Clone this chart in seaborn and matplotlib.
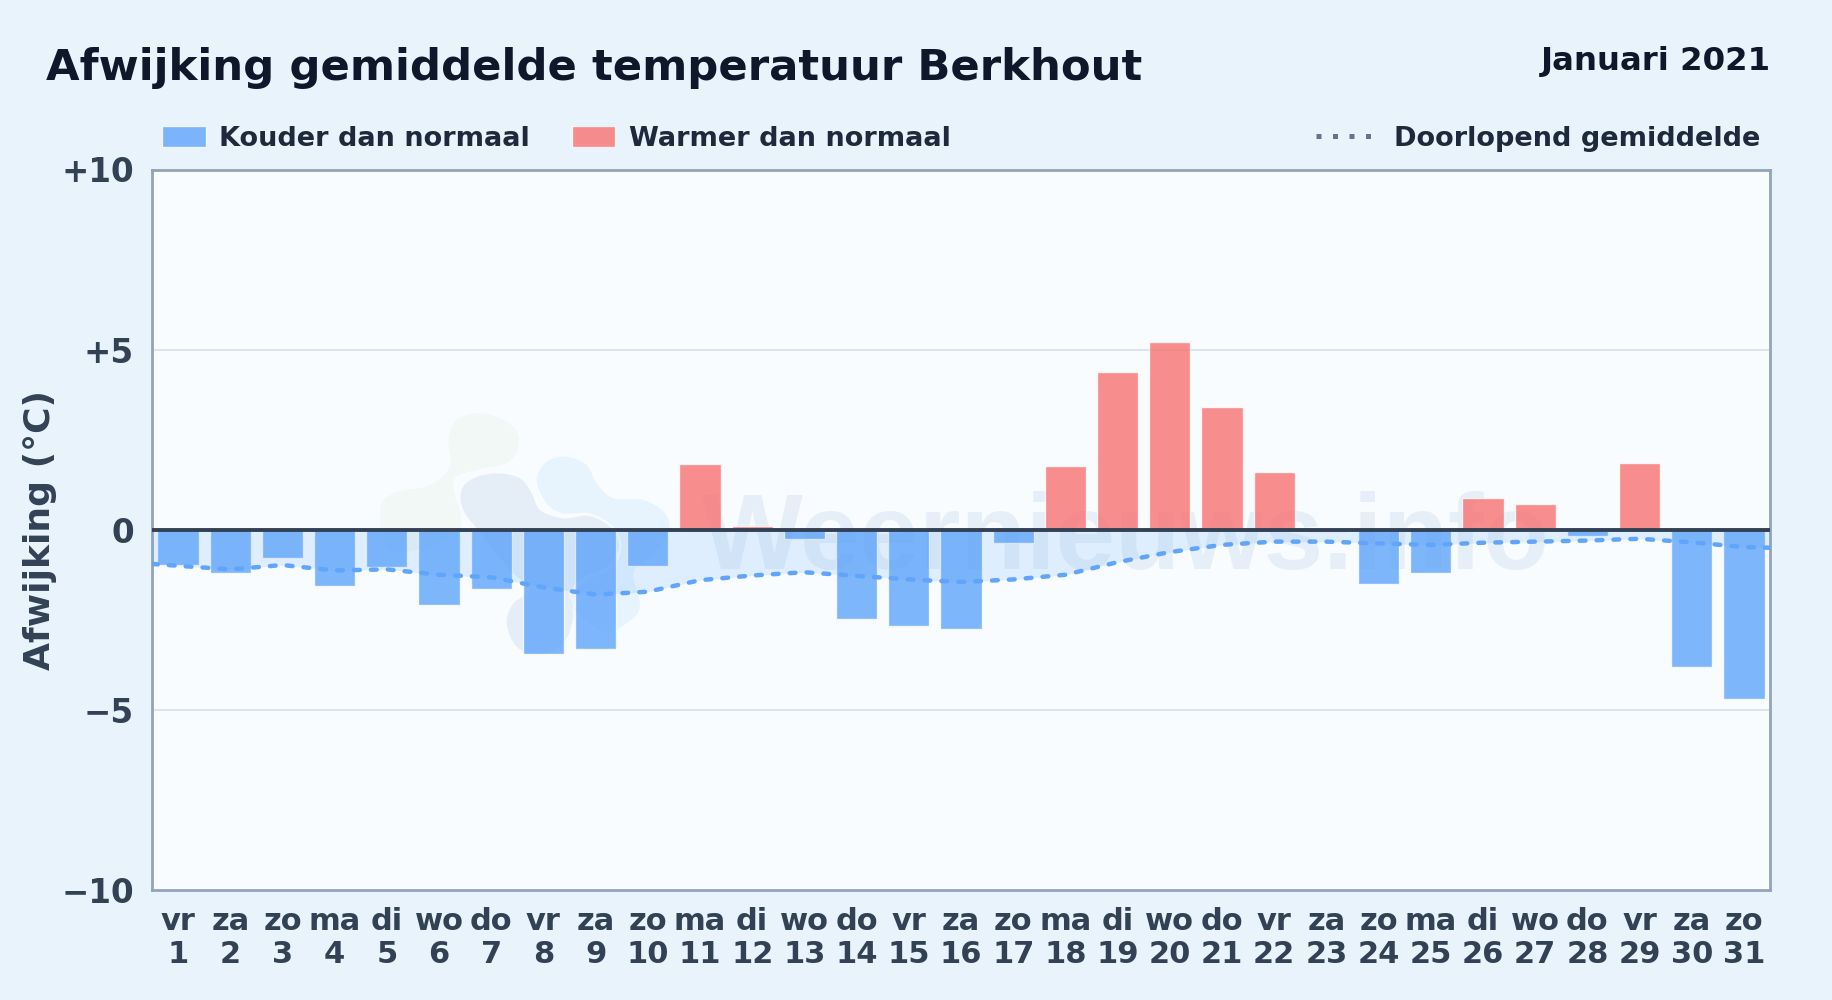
import matplotlib
matplotlib.use("Agg")
import matplotlib.pyplot as plt
import numpy as np
import pandas as pd
import seaborn as sns
from matplotlib.lines import Line2D
from matplotlib.patches import PathPatch, Patch
from matplotlib.path import Path
from matplotlib.transforms import Affine2D

weekdays = ["vr", "za", "zo", "ma", "di", "wo", "do", "vr", "za", "zo", "ma", "di", "wo", "do", "vr", "za",
            "zo", "ma", "di", "wo", "do", "vr", "za", "zo", "ma", "di", "wo", "do", "vr", "za", "zo"]
days = list(range(1, 32))
deviation = [-0.98, -1.2, -0.78, -1.55, -1.03, -2.1, -1.65, -3.45, -3.3, -1.0, 1.83, 0.1, -0.25, -2.47, -2.68, -2.75,
             -0.38, 1.77, 4.38, 5.2, 3.4, 1.6, -0.07, -1.5, -1.2, 0.88, 0.72, -0.18, 1.85, -3.8, -4.7]
running_mean = [-1.0, -1.1, -0.98, -1.13, -1.1, -1.25, -1.32, -1.6, -1.8, -1.72, -1.4, -1.27, -1.18, -1.28, -1.38, -1.45,
                -1.38, -1.25, -0.9, -0.62, -0.42, -0.33, -0.33, -0.38, -0.42, -0.36, -0.33, -0.3, -0.25, -0.35, -0.48]
running_start = -0.95
running_end = -0.5
y_ticks = [10, 5, 0, -5, -10]
y_labels = ["+10", "+5", "0", "\u22125", "\u221210"]

BLUE = "#60a5fa"
RED = "#f87171"
BG = "#e8f3fc"
PANEL = "#f8fcff"
INK = "#0f172a"
LABEL = "#334155"
LEGEND = "#1e293b"

sns.set_theme(style="white", font="DejaVu Sans")
fig = plt.figure(figsize=(18.32, 10), dpi=100, facecolor=BG)
ax = fig.add_axes([152 / 1832, 1 - 890 / 1000, (1770 - 152) / 1832, (890 - 169.5) / 1000], facecolor=PANEL)

df = pd.DataFrame({
    "label": [f"{w}\n{d}" for w, d in zip(weekdays, days)],
    "value": deviation,
    "kind": ["warm" if v > 0 else "koud" for v in deviation],
})
sns.barplot(data=df, x="label", y="value", hue="kind", dodge=False, width=0.79, alpha=0.8, saturation=1,
            palette={"koud": BLUE, "warm": RED}, errorbar=None, legend=False, ax=ax, zorder=2)

# running mean runs from edge to edge of the panel
line_x = np.r_[-0.5, np.arange(31), 30.5]
line_y = np.r_[running_start, running_mean, running_end]
ax.fill_between(line_x, line_y, 0, color=BLUE, alpha=0.16, lw=0, zorder=3)
sns.lineplot(x=line_x, y=line_y, color=BLUE, lw=3.2, ax=ax, zorder=5,
             linestyle=(0, (1.3, 2.5)), dash_capstyle="round", errorbar=None)

ax.axhline(0, color=LABEL, lw=2.8, zorder=6)
for v in [-5, 5]:
    ax.axhline(v, color="#dbe4ec", lw=1.4, zorder=1)

ax.set_xlim(-0.5, 30.5)
ax.set_ylim(-10, 10)
ax.set_yticks(y_ticks, y_labels)
ax.set_xlabel("")
ax.set_ylabel("Afwijking (\u00b0C)", fontsize=26, fontweight="bold", color=LABEL)
ax.yaxis.set_label_coords(-0.0587, 0.5)
ax.tick_params(axis="x", length=0, pad=12, labelsize=22, labelcolor=LABEL)
ax.tick_params(axis="y", length=0, pad=13, labelsize=23.5, labelcolor=LABEL)
for t in ax.get_xticklabels() + ax.get_yticklabels():
    t.set_fontweight("bold")
for t in ax.get_xticklabels():
    t.set_linespacing(1.2)
for s in ax.spines.values():
    s.set_color("#94a3b8")
    s.set_linewidth(2)

# faint logo + site name underneath the bars
to_px = Affine2D().scale(1 / 3, -1 / 3).translate(350, 1000 - 390)


def blob(outline, color, alpha):
    # closed smooth outline through the traced points
    p = np.array(outline, float)
    verts, codes = [p[0]], [Path.MOVETO]
    n = len(p)
    for i in range(n):
        a, b, c, d = p[i - 1], p[i], p[(i + 1) % n], p[(i + 2) % n]
        verts += [b + (c - a) / 6, c - (d - b) / 6, c]
        codes += [Path.CURVE4] * 3
    ax.add_patch(PathPatch(Path(verts, codes), fc=color, ec="none", alpha=alpha,
                           transform=to_px, zorder=1.5, clip_on=False))


blob([(400, 70), (490, 110), (505, 170), (470, 220), (380, 240), (310, 275), (330, 420), (200, 480), (110, 470),
      (90, 360), (130, 310), (240, 285), (300, 230), (295, 150), (320, 90)], "#a8cc80", 0.08)
blob([(440, 250), (510, 265), (545, 310), (570, 360), (640, 385), (720, 378), (790, 420), (805, 480), (770, 530),
      (700, 560), (660, 610), (670, 680), (640, 760), (570, 795), (500, 770), (470, 700), (490, 640), (540, 600),
      (480, 540), (400, 440), (340, 360), (335, 300), (370, 265)], "#1e5a9c", 0.085)
blob([(650, 200), (710, 225), (740, 280), (790, 325), (880, 330), (945, 370), (955, 430), (900, 500), (850, 550),
      (870, 650), (830, 700), (760, 725), (672, 660), (665, 610), (720, 570), (790, 530), (815, 470), (790, 410),
      (720, 370), (640, 370), (590, 340), (560, 270), (590, 215)], "#38a0f8", 0.085)
ax.text(1126 / 1832, 1 - 569 / 1000, "Weernieuws.info", fontsize=77, fontweight="bold", family="Liberation Sans",
        color="#1e5a9c", alpha=0.08, ha="center", va="baseline", zorder=1.5, transform=fig.transFigure)

fig.text(46 / 1832, 1 - 80 / 1000, "Afwijking gemiddelde temperatuur Berkhout", fontsize=31.2, fontweight="bold",
         color=INK, ha="left", va="baseline")
fig.text(1771 / 1832, 1 - 70 / 1000, "Januari 2021", fontsize=23.3, fontweight="bold",
         color=INK, ha="right", va="baseline")

left = ax.legend(handles=[Patch(fc=BLUE, alpha=0.8, label="Kouder dan normaal"),
                          Patch(fc=RED, alpha=0.8, label="Warmer dan normaal")],
                 loc="lower left", bbox_to_anchor=(-0.0045, 1.0), ncol=2, frameon=False,
                 prop={"size": 19.5, "weight": "bold"}, labelcolor=LEGEND, handlelength=1.6, handleheight=0.78,
                 handletextpad=0.5, columnspacing=1.55, borderaxespad=0.25)
ax.add_artist(left)
ax.legend(handles=[Line2D([], [], color="#64748b", lw=3.6, linestyle=(0, (1, 2.3)), label="Doorlopend gemiddelde")],
          loc="lower right", bbox_to_anchor=(1.0052, 1.0), frameon=False,
          prop={"size": 19.5, "weight": "bold"}, labelcolor=LEGEND, handlelength=2.05, handletextpad=0.85,
          borderaxespad=0.25)

fig.savefig("out.png", dpi=100, facecolor=BG)
